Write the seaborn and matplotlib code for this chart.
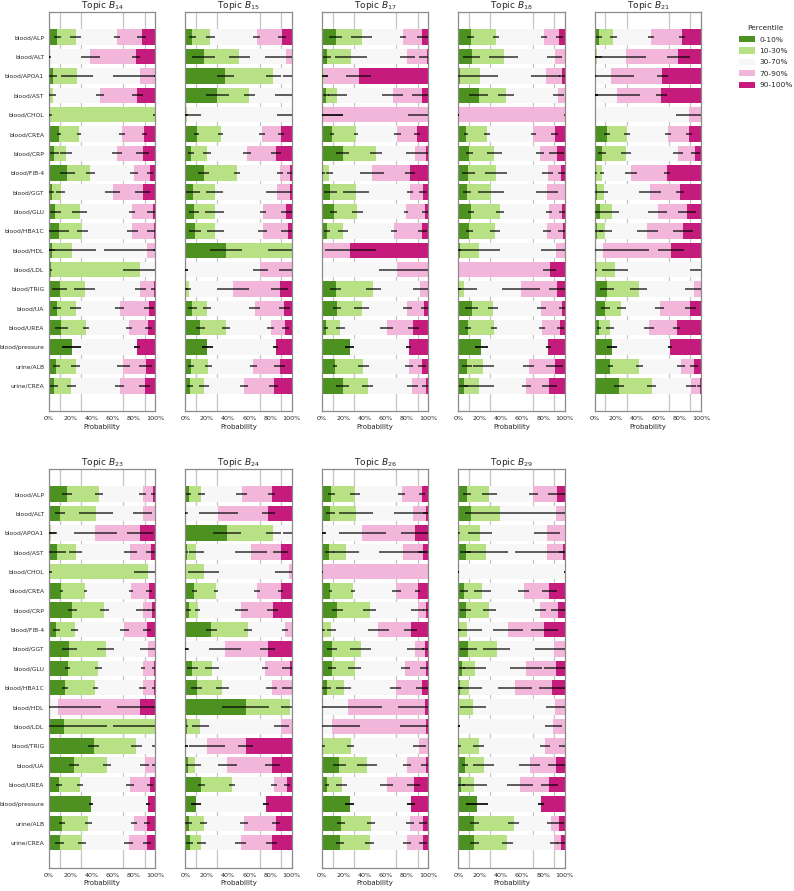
import numpy as np
import seaborn as sns
import matplotlib.pyplot as plt
from matplotlib.patches import Patch

features = ["blood/ALP", "blood/ALT", "blood/APOA1", "blood/AST", "blood/CHOL",
            "blood/CREA", "blood/CRP", "blood/FIB-4", "blood/GGT", "blood/GLU",
            "blood/HBA1C", "blood/HDL", "blood/LDL", "blood/TRIG", "blood/UA",
            "blood/UREA", "blood/pressure", "urine/ALB", "urine/CREA"]
percentiles = ["0-10%", "10-30%", "30-70%", "70-90%", "90-100%"]
colors = ["#4d9221", "#b8e186", "#f7f7f7", "#f1b6da", "#c51b7d"]
topics = ["14", "15", "17", "18", "21", "23", "24", "26", "29"]

# cumulative upper edge (%) of the 0-10, 10-30, 30-70, 70-90 bins, one row per feature
b14_cum = [[8, 25, 64, 87], [0, 0.5, 39, 82], [4, 26, 85.5, 100], [0, 4, 48, 83],
           [0.5, 100, 100, 100], [9.5, 28.5, 68.5, 89.5], [5, 16, 64, 88], [17, 39, 80, 95],
           [2.5, 11, 60, 88], [6, 29, 78, 97.5], [9, 31.5, 78.5, 98.5], [3, 22, 92, 100],
           [1.5, 86, 100, 100], [10, 33.5, 86, 98.5], [7.5, 25, 66.5, 94], [11.5, 35, 75, 93.5],
           [21.5, 21.5, 83, 83], [7, 25, 70, 91], [4.5, 21, 66.5, 90]]
b14_err = [[3, 5, 3, 4], [1, 1, 9, 3.5], [4, 15, 25, 1], [1, 3, 4, 5], [2.5, 2, 0, 0],
           [2, 2, 3, 2.5], [4, 6, 5, 6], [7, 4.5, 4, 3], [2.5, 4, 7, 7], [5, 7, 3, 5],
           [10, 5.5, 5, 6], [3, 22, 40, 2], [1, 16, 0, 0], [7, 10, 5, 3], [3.5, 5.5, 4, 4.5],
           [6, 3, 3, 3], [9, 9, 3, 3], [3, 4.5, 6, 6], [4, 4.5, 4.5, 5]]

b15_cum = [[6.5, 23.5, 67, 91], [17, 50.5, 95, 100], [37.5, 82.5, 100, 100], [30, 60, 100, 100],
           [0.5, 1.5, 100, 100], [10.5, 33, 72, 90], [5.5, 20.5, 58, 85], [17, 48.5, 89, 98],
           [7.5, 27.5, 86, 98], [8, 27.5, 73, 95], [9, 28, 72.5, 96], [38, 100, 100, 100],
           [0.3, 0.5, 70.5, 100], [0.5, 3, 45, 88.5], [6.5, 20.5, 65, 93], [14, 38, 80, 94],
           [20.5, 20.5, 85, 85], [5.5, 21.5, 64, 88.5], [4.5, 17.5, 55, 83]]
b15_err = [[3, 4, 3, 4], [11, 10, 20, 0], [8, 7, 8, 0], [11, 5, 16, 0], [2, 13.5, 14, 0],
           [2.5, 2.5, 3, 2.5], [3, 4, 4, 4.5], [5, 3, 3, 2.5], [6.5, 8, 10, 2], [5, 9, 3, 5],
           [6, 8, 4, 6], [15, 22, 0, 0], [2, 2, 7, 12], [2, 2, 15, 8], [4, 4, 5, 5],
           [4, 3.5, 3, 3], [5, 5, 2.5, 2.5], [3, 3.5, 3, 5], [3, 4.5, 4, 4.5]]

b17_cum = [[13, 37.5, 76.5, 94.5], [5, 27.5, 80.5, 98.5], [0, 2, 2, 34.5], [4, 14.5, 66.5, 94],
           [0, 1.5, 1.5, 100], [9.5, 32, 71, 89.5], [19.5, 51, 87.5, 98], [0.5, 7, 47, 83],
           [8, 32, 83, 95], [11, 33.5, 79, 97], [5, 20, 68, 94.5], [0, 0.5, 0.5, 26.5],
           [0, 0, 71, 100], [13, 48.5, 92.5, 100], [14, 37.5, 80.5, 96.5], [4, 17.5, 61, 86],
           [26, 26, 81.5, 81.5], [12.5, 39, 82, 94], [19.5, 43, 85, 98]]
b17_err = [[6, 10, 3, 5], [4, 15, 7, 7], [0, 4, 4, 12], [3, 9, 10, 9], [0, 18, 18, 19],
           [1.5, 2, 3, 2.5], [6, 6, 8, 3], [2, 3, 11, 5], [6, 12, 3, 4], [3.5, 5, 2, 3],
           [3, 5, 3, 4], [0, 0, 0, 24], [0, 0, 17, 12], [5, 7, 7, 0], [4, 7, 4, 3],
           [2, 4, 6, 5], [4, 4, 2, 2], [2, 5, 4, 4], [6, 5, 5, 4]]

b18_cum = [[11.5, 35.5, 80.5, 95], [12.5, 42.5, 90.5, 100], [2, 20.5, 82, 97.5], [19, 45, 94, 100],
           [0, 0.5, 0.5, 100], [7, 27, 70.5, 90.5], [10.5, 34, 77, 92.5], [9.5, 35.5, 84, 97],
           [8, 30.5, 83.5, 100], [12, 39, 85, 97.5], [10.5, 34.5, 83.5, 98], [1.5, 19.5, 92, 100],
           [0, 0.5, 0.5, 86], [0.5, 5, 59, 93], [12.5, 32.5, 78, 97.5], [9, 33.5, 78.5, 96],
           [21.5, 21.5, 84.5, 84.5], [8, 23.5, 66, 90.5], [5, 19.5, 64, 85.5]]
b18_err = [[3, 3, 3, 3], [8, 14, 7, 0], [2, 16.5, 14, 3], [9, 7.5, 5, 0], [0.5, 0.5, 0.5, 0.5],
           [2, 2.5, 2.5, 3], [3.5, 7, 4, 7], [6, 10, 5, 3], [4, 12, 10, 0], [3, 3.5, 3, 3],
           [3, 5, 4, 4], [1, 20, 14, 0], [0, 0, 0, 6], [2, 13, 18, 8], [6, 5, 4, 3],
           [3, 3, 3, 3], [6, 6, 2.5, 2.5], [5, 10, 5, 8], [4, 14, 4, 7]]

b21_cum = [[4, 17.5, 53, 82], [0.5, 2, 29.5, 78.5], [0, 0.5, 15, 63.5], [0, 0.5, 20.5, 62.5],
           [0, 0, 89, 100], [11.5, 30.5, 69, 88.5], [7, 29.5, 78.5, 94.5], [0.5, 6.5, 34, 68],
           [2, 8.5, 52, 80], [4.5, 16.5, 59, 87], [2, 10, 49.5, 83], [0, 0, 8, 71.5],
           [0.5, 19, 100, 100], [11.5, 41.5, 93, 100], [10, 25, 61, 90], [4, 14.5, 51, 77],
           [16, 16, 70.5, 70.5], [14.5, 42, 81, 93.5], [23, 53.5, 90.5, 98.5]]
b21_err = [[2.5, 3, 3, 3], [6, 9, 19, 11], [0, 1, 22, 5], [3, 3, 22, 5], [0, 0, 12.5, 0],
           [2.5, 3, 3, 2.5], [4, 4.5, 4.5, 4], [2, 2, 6, 3], [3, 4, 10, 4], [6, 6, 9, 8.5],
           [6, 6, 10, 9], [0, 0, 43, 12], [2, 12, 10, 0], [7, 8, 8, 0], [4.5, 4, 4, 5],
           [2, 4, 5, 3], [4.5, 4.5, 2, 2], [2.5, 3.5, 4, 3.5], [4.5, 4, 4.5, 2]]

b23_cum = [[17, 47, 88, 97.5], [10.5, 44.5, 88, 100], [0.5, 2, 43.5, 85.5], [8, 25, 76.5, 96],
           [0.5, 93, 100, 100], [11.5, 34, 77, 94], [22, 52, 88, 96.5], [7, 24, 71, 92],
           [19, 53.5, 93, 100], [17.5, 46.5, 88.5, 98.5], [15, 43.5, 88, 98.5], [0, 0, 8.5, 86],
           [14, 100, 100, 100], [42, 82, 100, 100], [23.5, 54.5, 90, 100], [9.5, 29, 76, 95],
           [39.5, 39.5, 93, 93], [12, 37, 80, 92], [10, 31, 75, 92]]
b23_err = [[5, 4, 3, 2], [5, 16, 9, 0], [6, 6, 20, 12], [8, 6, 6, 5], [2, 13, 0, 0],
           [1.5, 1.5, 2, 3], [4.5, 4.5, 6, 3], [3, 3.5, 4, 3.5], [7, 8, 7, 0], [2, 3, 2, 2],
           [3, 2.5, 3, 2], [0, 0, 40, 22], [41, 40, 0, 0], [5, 5, 3, 0], [5, 3.5, 4, 3],
           [3, 3, 4, 3], [2, 2, 2, 2], [3, 3, 3, 3], [4, 4, 4, 4]]

b24_cum = [[3, 15, 53, 81], [0, 0.5, 31, 78], [39, 82.5, 100, 100], [1.5, 10, 62, 89.5],
           [0, 17, 97.5, 100], [8.5, 28.5, 67.5, 89.5], [3, 11.5, 52.5, 82], [24.5, 59, 93.5, 100],
           [0.5, 1, 37, 77.5], [6.5, 25, 75, 98], [10.5, 34.5, 81, 100], [56.5, 98, 100, 100],
           [1.5, 14, 90, 100], [0, 0.5, 20, 56.5], [2, 9, 39.5, 81.5], [15, 44, 83, 95.5],
           [10, 10, 76, 76], [3, 17, 55, 85], [4, 15, 52, 81]]
b24_err = [[2, 3, 5, 3], [1, 2, 18, 6], [13, 7, 8, 0], [1, 7, 15, 7], [0, 14.5, 13, 0],
           [2, 2, 3, 2], [2, 2.5, 6, 5], [5, 3.5, 3, 0], [2, 2, 15, 7], [5, 7, 3, 7],
           [5, 6, 5, 9], [22, 8, 0, 0], [1, 8, 7, 0], [2, 2, 17, 7], [1, 6, 9, 7],
           [3.5, 3, 3, 3], [5, 5, 3, 3], [3, 3, 4, 4], [3, 4, 5, 5]]

b26_cum = [[9, 31, 75, 94], [8, 32.5, 85.5, 98], [0.5, 1, 38, 88], [7, 22.5, 76, 95],
           [0, 0, 0.5, 100], [8, 29, 70, 90], [14.5, 45, 90, 98], [0.5, 9, 53, 83.5],
           [9.5, 36.5, 88, 97], [9.5, 31, 78.5, 97.5], [4.5, 20.5, 69.5, 94.5], [0, 0.5, 25, 97],
           [0, 0, 9.5, 97.5], [1, 27, 91.5, 100], [16.5, 42.5, 80, 98], [4.5, 18.5, 61, 86.5],
           [26, 26, 84, 84], [18, 46, 83, 95], [17, 45, 80, 95]]
b26_err = [[3, 5, 3, 3], [4, 16, 18, 3], [3, 3, 22, 14], [4, 12.5, 22, 5], [0, 0, 0.5, 0.5],
           [1.5, 2, 4, 2.5], [5, 6, 6, 3], [2, 4, 10, 6], [5, 10, 8, 3], [4, 6, 4, 5],
           [4, 7, 5, 6], [0, 0, 32, 25], [0, 0, 26, 24], [2, 3, 6, 0], [6, 9, 4, 5],
           [2, 5, 6, 6], [4, 4, 4, 4], [4, 4, 4, 4], [4, 4, 4, 4]]

b29_cum = [[8, 29, 70.5, 93], [12, 39.5, 92, 100], [0.5, 20.5, 83.5, 100], [7, 26.5, 83, 98],
           [0, 0, 100, 100], [5.5, 22.5, 61.5, 85.5], [7, 29, 77, 94], [0.5, 8, 46.5, 81],
           [9.5, 36, 90, 100], [3.5, 15.5, 63.5, 92], [1.5, 10.5, 53.5, 88.5], [0, 14, 91, 100],
           [0, 0, 89.5, 100], [0.5, 19, 81.5, 100], [6.5, 24, 67, 92], [2.5, 15, 58, 85.5],
           [17.5, 17.5, 77.5, 77.5], [15, 52, 87, 95], [15, 46, 90, 97]]
b29_err = [[4, 7, 4, 9], [6, 22, 30, 0], [1, 11, 12, 0], [5, 20, 30, 3], [0.5, 0.5, 0.5, 0.5],
           [4, 8, 5, 7], [5, 6, 5, 7], [2, 14, 14, 13], [8, 13, 18, 0], [3, 11, 15, 11],
           [2, 12, 16, 13], [0, 12, 9, 0], [2, 2, 8, 0], [2, 5, 5, 5], [3, 10, 10, 8],
           [4, 12, 12, 8], [10, 10, 3, 3], [4, 5, 4, 4], [4, 5, 4, 4]]

cums = [b14_cum, b15_cum, b17_cum, b18_cum, b21_cum, b23_cum, b24_cum, b26_cum, b29_cum]
errs = [b14_err, b15_err, b17_err, b18_err, b21_err, b23_err, b24_err, b26_err, b29_err]

sns.set_style("white")
plt.rcParams["font.family"] = ["DejaVu Sans"]

fig, axes = plt.subplots(2, 5, figsize=(7.94, 8.91), dpi=100)
fig.subplots_adjust(left=0.0617, right=0.883, top=0.9865, bottom=0.026,
                    wspace=0.283, hspace=0.145)

ypos = np.arange(len(features))
for i, (topic, cum, err) in enumerate(zip(topics, cums, errs)):
    ax = axes.flat[i]
    cum = np.array(cum, dtype=float) / 100
    err = np.array(err, dtype=float) / 100
    # stacked bars: draw the widest segment first, then narrower ones on top
    for k in range(4, -1, -1):
        vals = np.ones(len(features)) if k == 4 else cum[:, k]
        sns.barplot(x=vals, y=features, color=colors[k], orient="h", width=0.8,
                    saturation=1, linewidth=0, ax=ax, zorder=2)
    for k in range(4):
        ax.errorbar(cum[:, k], ypos, xerr=err[:, k], fmt="none", ecolor="black",
                    elinewidth=1.1, alpha=0.8, zorder=5)
    for g in [0.1, 0.3, 0.7, 0.9]:
        ax.axvline(g, color="#c4c4c4", lw=0.9, zorder=0)
    ax.set_xlim(0, 1)
    ax.set_ylim(len(features) - 1 + 1.3, -1.3)
    ax.set_xticks(np.linspace(0, 1, 6))
    ax.set_xticklabels([f"{int(round(v * 100))}%" for v in np.linspace(0, 1, 6)])
    ax.set_xlabel("Probability", fontsize=5, labelpad=2)
    ax.set_ylabel("")
    ax.set_title(rf"Topic $B_{{{topic}}}$", fontsize=6.5, pad=3)
    ax.tick_params(axis="x", labelsize=4.6, length=2, width=0.6, color="#777777", pad=1.5)
    ax.tick_params(axis="y", labelsize=4.35, length=2, width=0.6, color="#777777", pad=1.5)
    if i % 5 != 0:
        ax.tick_params(axis="y", labelleft=False)
    for s in ax.spines.values():
        s.set_color("#8a8a8a")
        s.set_linewidth(0.9)

axes.flat[9].axis("off")

handles = [Patch(facecolor=c, edgecolor="none") for c in colors]
fig.legend(handles, percentiles, title="Percentile", loc="upper left",
           bbox_to_anchor=(0.922, 0.979), frameon=False, fontsize=5.3,
           title_fontsize=5.3, handlelength=2.2, handleheight=0.9, labelspacing=0.65,
           handletextpad=0.6)

plt.savefig("out.png", dpi=100)
